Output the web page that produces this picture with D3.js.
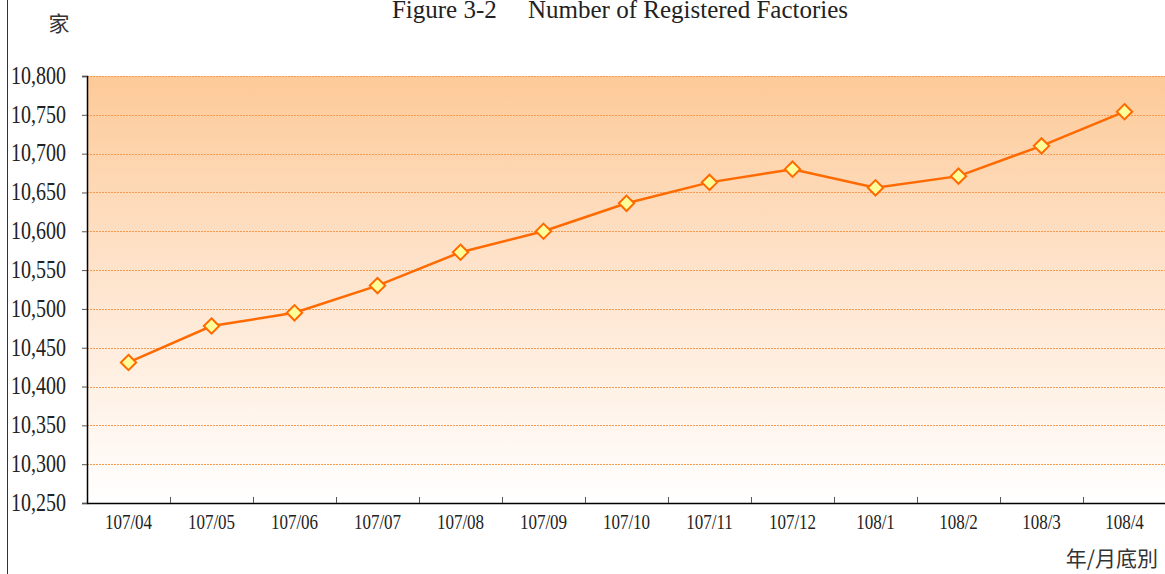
<!DOCTYPE html>
<html>
<head>
<meta charset="utf-8">
<script src="https://cdn.jsdelivr.net/npm/d3@7"></script>
<style>
  body { margin: 0; background: #fff; }
  svg { display: block; }
</style>
</head>
<body>
<svg id="chart"></svg>
<script>
// months (year/month, ROC calendar)
var months = ["107/04","107/05","107/06","107/07","107/08","107/09","107/10",
              "107/11","107/12","108/1","108/2","108/3","108/4"];
// number of registered factories
var factories = [10431,10478,10495,10530,10573,10600,10636,
                 10663,10680,10656,10671,10710,10754];
var yTicks = [10250,10300,10350,10400,10450,10500,10550,
              10600,10650,10700,10750,10800];

var serif = "'Liberation Serif', 'Times New Roman', serif";
var cjk = "'Noto Sans CJK TC', sans-serif";

var screen = {width:1165, height:574};
var margins = {left:87, right:-1, top:76, bottom:71};
var graph = {
  width: screen.width - margins.left - margins.right,
  height: screen.height - margins.top - margins.bottom
};

var svg = d3.select("#chart")
  .attr("width", screen.width)
  .attr("height", screen.height);

// background gradient
var defs = svg.append("defs");
var grad = defs.append("linearGradient")
  .attr("id","bg").attr("x1",0).attr("y1",0).attr("x2",0).attr("y2",1);
grad.append("stop").attr("offset","0%").attr("stop-color","#fdca98");
grad.append("stop").attr("offset","45%").attr("stop-color","#fee3cb");
grad.append("stop").attr("offset","100%").attr("stop-color","#ffffff");

// outer frame line on the left
svg.append("line")
  .attr("x1",7.5).attr("x2",7.5).attr("y1",0).attr("y2",screen.height)
  .attr("stroke","#333").attr("stroke-width",1);

var xScale = d3.scaleBand()
  .domain(months)
  .range([0, graph.width]);

var yScale = d3.scaleLinear()
  .domain([10250,10800])
  .range([graph.height, 0]);

var target = svg.append("g")
  .attr("transform","translate("+margins.left+","+margins.top+")");

target.append("rect")
  .attr("width", graph.width).attr("height", graph.height)
  .attr("fill","url(#bg)");

// grid lines
target.append("g")
  .selectAll("line")
  .data(yTicks.slice(1))
  .enter()
  .append("line")
  .attr("x1",0).attr("x2",graph.width)
  .attr("y1",function(d){return Math.round(yScale(d))+0.5;})
  .attr("y2",function(d){return Math.round(yScale(d))+0.5;})
  .attr("stroke","#f59a4e")
  .attr("stroke-width",1)
  .attr("stroke-dasharray","2,1");

// y axis
var yAxis = d3.axisLeft(yScale)
  .tickValues(yTicks)
  .tickSize(5)
  .tickPadding(16)
  .tickFormat(d3.format(","));
var yG = target.append("g").call(yAxis);
yG.select(".domain").attr("stroke","#000").attr("stroke-width",1.5);
yG.selectAll(".tick line").attr("stroke","#555");
// the original font is narrow and tall, so stretch it a bit
yG.selectAll(".tick text")
  .attr("font-family",serif)
  .attr("font-size","20px")
  .attr("fill","#222")
  .attr("dy",null)
  .attr("y",6)
  .attr("transform","scale(1,1.22)");

// x axis: ticks at category boundaries pointing up
var xG = target.append("g")
  .attr("transform","translate(0,"+graph.height+")")
  .call(d3.axisBottom(xScale).tickSize(0).tickPadding(12));
xG.select(".domain").attr("stroke","#000").attr("stroke-width",1.5);
xG.selectAll(".tick text")
  .attr("font-family",serif)
  .attr("font-size","17px")
  .attr("fill","#222")
  .attr("dy",null)
  .attr("y",21)
  .attr("transform","scale(1,1.22)");
target.append("g")
  .selectAll("line")
  .data(months.slice(1))
  .enter()
  .append("line")
  .attr("x1",function(d){return Math.round(xScale(d))+0.5;})
  .attr("x2",function(d){return Math.round(xScale(d))+0.5;})
  .attr("y1",graph.height).attr("y2",graph.height-6)
  .attr("stroke","#555");

// line
var lineGenerator = d3.line()
  .x(function(d,i){ return xScale(months[i]) + xScale.bandwidth()/2; })
  .y(function(d){ return yScale(d); });

target.append("path")
  .datum(factories)
  .attr("d", lineGenerator)
  .attr("fill","none")
  .attr("stroke","#ff6a00")
  .attr("stroke-width",2.5);

// diamond markers
var diamond = d3.symbol().type(d3.symbolDiamond2).size(150);
target.append("g")
  .selectAll("path")
  .data(factories)
  .enter()
  .append("path")
  .attr("d", diamond)
  .attr("transform",function(d,i){
    return "translate("+(xScale(months[i])+xScale.bandwidth()/2)+","+yScale(d)+")";
  })
  .attr("fill","#ffff99")
  .attr("stroke","#ff6a00")
  .attr("stroke-width",2);

// labels
var labels = svg.append("g");
labels.append("text")
  .text("Figure 3-2\u00a0\u00a0\u00a0\u00a0\u00a0Number of Registered Factories")
  .attr("x",620).attr("y",18)
  .attr("text-anchor","middle")
  .attr("font-family",serif)
  .attr("font-size","25px")
  .attr("fill","#222");
labels.append("text")
  .text("家")
  .attr("x",59).attr("y",31)
  .attr("text-anchor","middle")
  .attr("font-family",cjk)
  .attr("font-size","21px")
  .attr("fill","#333");
labels.append("text")
  .text("年/月底別")
  .attr("x",1158).attr("y",566)
  .attr("text-anchor","end")
  .attr("font-family",cjk)
  .attr("font-size","21px")
  .attr("fill","#333");
</script>
</body>
</html>
